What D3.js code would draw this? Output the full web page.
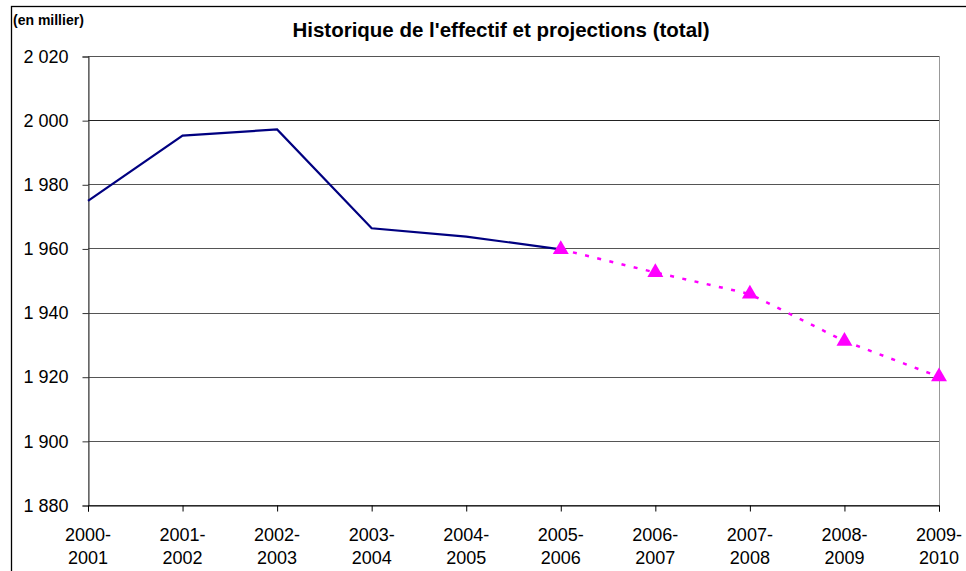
<!DOCTYPE html>
<html lang="fr">
<head>
<meta charset="UTF-8">
<title>Historique de l'effectif</title>
<script src="https://cdn.jsdelivr.net/npm/d3@7"></script>
<style>
  body { margin: 0; background: #fff; }
  text { font-family: "Liberation Sans", Arial, sans-serif; }
</style>
</head>
<body>
<script>

var w = 966;
var h = 571;
var margin = {top: 56, right: 27, bottom: 66, left: 88};

// data, in thousands
var years = ["2000-2001", "2001-2002", "2002-2003", "2003-2004", "2004-2005",
             "2005-2006", "2006-2007", "2007-2008", "2008-2009", "2009-2010"];
var histYears = years.slice(0, 6);
var histValues = [1974.8, 1995.2, 1997.1, 1966.3, 1963.7, 1959.7];
var projYears = years.slice(5);
var projValues = [1959.7, 1952.5, 1945.8, 1931.1, 1920.0];
var yTicks = [1880, 1900, 1920, 1940, 1960, 1980, 2000, 2020];

var svg = d3.select("body").append("svg")
    .attr("width", w)
    .attr("height", h);

// outer chart frame (right and bottom edges fall outside the picture)
svg.append("rect")
    .attr("x", 11.5).attr("y", 6.5)
    .attr("width", w).attr("height", h)
    .attr("fill", "none")
    .attr("stroke", "#000")
    .attr("stroke-width", 1.3);

svg.append("text")
    .attr("x", 13).attr("y", 25)
    .attr("font-size", "14px")
    .attr("font-weight", "bold")
    .text("(en millier)");

svg.append("text")
    .attr("x", 501).attr("y", 37)
    .attr("text-anchor", "middle")
    .attr("font-size", "20.5px")
    .attr("font-weight", "bold")
    .text("Historique de l'effectif et projections (total)");

var x = d3.scalePoint()
    .domain(years)
    .range([margin.left, w - margin.right]);

var y = d3.scaleLinear()
    .domain([1880, 2020])
    .range([h - margin.bottom, margin.top]);

// plot area border
svg.append("rect")
    .attr("x", margin.left + 0.5).attr("y", margin.top + 0.5)
    .attr("width", w - margin.right - margin.left)
    .attr("height", h - margin.bottom - margin.top)
    .attr("fill", "none")
    .attr("stroke", "#999");

// gridlines
svg.append("g")
    .selectAll("line")
    .data(yTicks)
    .enter()
    .append("line")
    .attr("x1", margin.left).attr("x2", w - margin.right)
    .attr("y1", function(d) { return Math.round(y(d)) + 0.5; })
    .attr("y2", function(d) { return Math.round(y(d)) + 0.5; })
    .attr("stroke", function(d) { return d == 2000 ? "#222" : "#555"; });

var fmt = function(d) { return d3.format(",")(d).replace(",", " "); };

var yAxis = svg.append("g")
    .attr("transform", "translate(" + (margin.left + 0.5) + ",0.5)")
    .call(d3.axisLeft(y).tickValues(yTicks).tickFormat(fmt).tickSize(6).tickPadding(14));
yAxis.select(".domain").attr("stroke", "#333");
yAxis.selectAll(".tick line").attr("stroke", "#333");
yAxis.selectAll("text")
    .attr("font-size", "18px")
    .attr("fill", "#000")
    .attr("font-family", "Liberation Sans, Arial, sans-serif");

var xAxis = svg.append("g")
    .attr("transform", "translate(0," + (h - margin.bottom + 0.5) + ")")
    .call(d3.axisBottom(x).tickSize(6).tickFormat(""));
xAxis.select(".domain").attr("stroke", "#000");
xAxis.selectAll(".tick line").attr("stroke", "#000");

var labels = svg.append("g")
    .selectAll("text")
    .data(years)
    .enter()
    .append("text")
    .attr("text-anchor", "middle")
    .attr("font-size", "18px")
    .attr("x", function(d) { return x(d); })
    .attr("y", 541);
labels.append("tspan")
    .attr("x", function(d) { return x(d); })
    .text(function(d) { return d.split("-")[0] + "-"; });
labels.append("tspan")
    .attr("x", function(d) { return x(d); })
    .attr("dy", 23)
    .text(function(d) { return d.split("-")[1]; });

// historical line
var histLine = d3.line()
    .x(function(d, i) { return x(histYears[i]); })
    .y(function(d) { return y(d); });

svg.append("path")
    .datum(histValues)
    .attr("d", histLine)
    .attr("fill", "none")
    .attr("stroke", "#000080")
    .attr("stroke-width", 2.2);

// projections
var projLine = d3.line()
    .x(function(d, i) { return x(projYears[i]); })
    .y(function(d) { return y(d); });

svg.append("path")
    .datum(projValues)
    .attr("d", projLine)
    .attr("fill", "none")
    .attr("stroke", "#ff00ff")
    .attr("stroke-width", 2.5)
    .attr("stroke-dasharray", "4,8.5");

svg.append("g")
    .selectAll("path")
    .data(projValues)
    .enter()
    .append("path")
    .attr("d", d3.symbol().type(d3.symbolTriangle).size(110))
    .attr("transform", function(d, i) { return "translate(" + x(projYears[i]) + "," + y(d) + ")"; })
    .attr("fill", "#ff00ff");

</script>
</body>
</html>
